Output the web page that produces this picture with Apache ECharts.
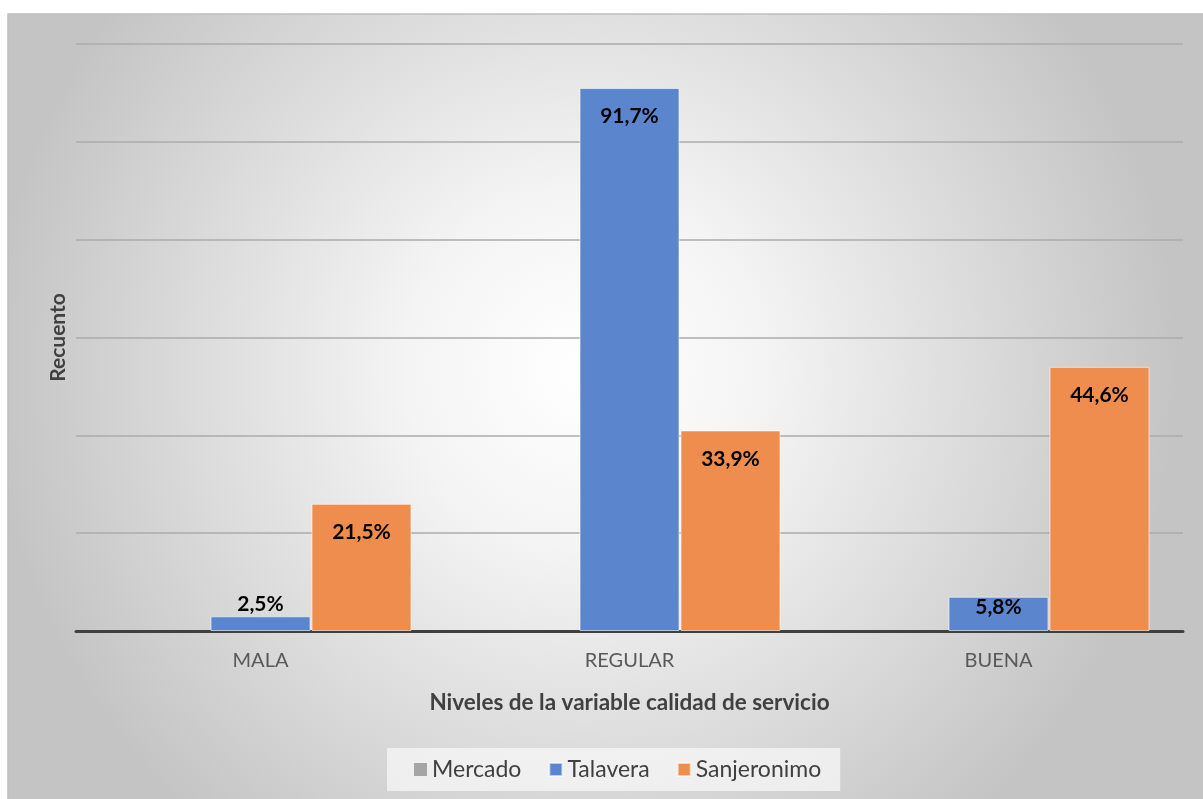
<!DOCTYPE html>
<html>
<head>
<meta charset="utf-8">
<script src="https://cdn.jsdelivr.net/npm/echarts@6/dist/echarts.min.js"></script>
<style>
html,body{margin:0;padding:0;background:#ffffff;}
#chart{width:1203px;height:799px;}
</style>
</head>
<body>
<div id="chart"></div>
<script>
// Data (counts out of 121 per series; labels are the shown percentages)
const categories = ['MALA', 'REGULAR', 'BUENA'];
const seriesNames = ['Mercado', 'Talavera', 'Sanjeronimo'];
const mercadoValues = [0, 0, 0];
const talaveraValues = [3, 111, 7];
const sanjeronimoValues = [26, 41, 54];
const talaveraLabels = ['2,5%', '91,7%', '5,8%'];
const sanjeronimoLabels = ['21,5%', '33,9%', '44,6%'];
const yTicks = [0, 20, 40, 60, 80, 100, 120];

const FONT = 'Lato, "Noto Sans", sans-serif';
const colors = ['#A5A5A5', '#5B86CE', '#EE8D4E'];

function buildData(values, labels) {
  return values.map((v, i) => {
    let label;
    if (v < 5) label = { position: 'top', distance: 2 };
    else if (v < 10) label = { position: 'insideTop', distance: 0 };
    else label = { position: 'insideTop', distance: 18 };
    label.formatter = labels[i];
    return { value: v, label: label };
  });
}

const labelStyle = { show: true, color: '#000000', fontFamily: FONT, fontWeight: 'bold', fontSize: 21 };

const chart = echarts.init(document.getElementById('chart'), null, { renderer: 'canvas' });
chart.setOption({
  animation: false,
  graphic: [{
    type: 'rect',
    z: -10,
    shape: { x: 8, y: 14, width: 1200, height: 790 },
    style: {
      fill: {
        type: 'radial', x: 0.48, y: 0.45, r: 0.75,
        colorStops: [
          { offset: 0, color: '#ffffff' },
          { offset: 0.3, color: '#f4f4f4' },
          { offset: 1, color: '#c4c4c4' }
        ]
      },
      stroke: '#bfbfbf', lineWidth: 1.5
    }
  }],
  grid: { left: 76, right: 20, top: 44, bottom: 168, containLabel: false },
  legend: {
    bottom: 8,
    left: 387,
    data: seriesNames,
    icon: 'rect',
    itemWidth: 13,
    itemHeight: 13,
    itemGap: 27,
    backgroundColor: 'rgba(250,250,250,0.7)',
    padding: [10, 19, 10, 27],
    textStyle: { color: '#404040', fontFamily: FONT, fontSize: 23 }
  },
  xAxis: {
    type: 'category',
    data: categories,
    name: 'Niveles de la variable calidad de servicio',
    nameLocation: 'middle',
    nameGap: 60,
    nameTextStyle: { color: '#404040', fontFamily: FONT, fontWeight: 'bold', fontSize: 22.5 },
    axisLine: { lineStyle: { color: '#404040', width: 3 } },
    axisTick: { show: false },
    axisLabel: { color: '#595959', fontFamily: FONT, fontSize: 20, margin: 20 }
  },
  yAxis: {
    type: 'value',
    min: yTicks[0],
    max: yTicks[yTicks.length - 1],
    interval: yTicks[1] - yTicks[0],
    name: 'Recuento',
    nameLocation: 'middle',
    nameGap: 7,
    nameTextStyle: { color: '#404040', fontFamily: FONT, fontWeight: 'bold', fontSize: 21 },
    axisLabel: { show: false },
    axisLine: { show: false },
    axisTick: { show: false },
    splitLine: { lineStyle: { color: '#ababab', width: 1.5 } }
  },
  series: [
    {
      name: seriesNames[0], type: 'bar', data: mercadoValues,
      barWidth: 100, barGap: '1%',
      itemStyle: { color: colors[0] }
    },
    {
      name: seriesNames[1], type: 'bar', data: buildData(talaveraValues, talaveraLabels),
      barWidth: 100, barGap: '1%',
      itemStyle: { color: colors[1], borderColor: 'rgba(255,255,255,0.6)', borderWidth: 1 },
      label: labelStyle
    },
    {
      name: seriesNames[2], type: 'bar', data: buildData(sanjeronimoValues, sanjeronimoLabels),
      barWidth: 100, barGap: '1%',
      itemStyle: { color: colors[2], borderColor: 'rgba(255,255,255,0.6)', borderWidth: 1 },
      label: labelStyle
    }
  ]
});
</script>
</body>
</html>
